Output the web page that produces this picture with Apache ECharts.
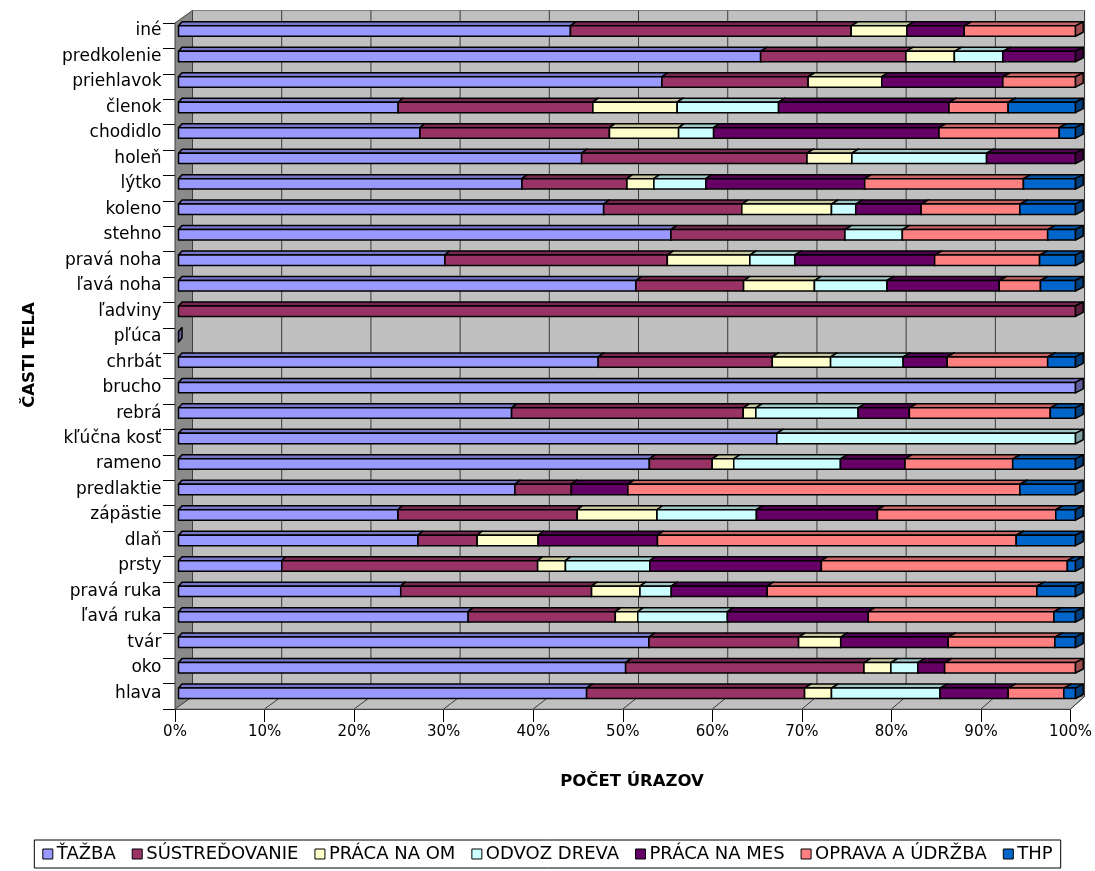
<!DOCTYPE html>
<html>
<head>
<meta charset="utf-8">
<script src="https://cdn.jsdelivr.net/npm/echarts@6/dist/echarts.min.js"></script>
<style>
  html, body { margin: 0; padding: 0; background: #fff; }
  #chart { width: 1095px; height: 871px; }
</style>
</head>
<body>
<div id="chart"></div>
<script>
// Body parts, listed from the bottom row upwards
const categories = ['hlava', 'oko', 'tvár', 'ľavá ruka', 'pravá ruka', 'prsty', 'dlaň', 'zápästie',
  'predlaktie', 'rameno', 'kľúčna kosť', 'rebrá', 'brucho', 'chrbát', 'pľúca', 'ľadviny',
  'ľavá noha', 'pravá noha', 'stehno', 'koleno', 'lýtko', 'holeň', 'chodidlo', 'členok',
  'priehlavok', 'predkolenie', 'iné'];

// Share of injuries (%) per department, same order as categories
const tazba         = [45.5, 49.9, 52.5, 32.3, 24.8, 11.5, 26.7, 24.5, 37.5, 52.5, 66.7, 37.1, 100, 46.8, 0, 0, 51.0, 29.7, 54.9, 47.4, 38.3, 44.9, 26.9, 24.5, 53.9, 64.9, 43.7];
const sustredovanie = [24.3, 26.6, 16.7, 16.4, 21.3, 28.5, 6.6, 20.0, 6.3, 7.0, 0, 25.8, 0, 19.4, 0, 100, 12.0, 24.8, 19.4, 15.4, 11.7, 25.1, 21.1, 21.7, 16.3, 16.2, 31.3];
const pracaNaOM     = [3.0, 3.0, 4.7, 2.5, 5.4, 3.1, 6.8, 8.9, 0, 2.4, 0, 1.4, 0, 6.5, 0, 0, 7.9, 9.2, 0, 10.0, 3.0, 5.0, 7.7, 9.4, 8.2, 5.4, 6.2];
const odvozDreva    = [12.1, 3.0, 0, 10.0, 3.5, 9.4, 0, 11.1, 0, 11.9, 33.3, 11.4, 0, 8.1, 0, 0, 8.1, 5.0, 6.4, 2.7, 5.8, 15.0, 3.9, 11.3, 0, 5.4, 0];
const pracaNaMES    = [7.6, 3.0, 12.0, 15.7, 10.7, 19.1, 13.3, 13.5, 6.3, 7.2, 0, 5.7, 0, 4.9, 0, 0, 12.5, 15.6, 0, 7.3, 17.7, 9.9, 25.1, 19.0, 13.5, 8.1, 6.4];
const opravaUdrzba  = [6.2, 14.6, 11.9, 20.7, 30.1, 27.4, 40.0, 19.9, 43.7, 12.0, 0, 15.7, 0, 11.2, 0, 0, 4.6, 11.7, 16.2, 11.0, 17.7, 0, 13.4, 6.6, 8.1, 0, 12.4];
const thp           = [1.3, 0, 2.3, 2.4, 4.3, 0.9, 6.6, 2.2, 6.2, 7.0, 0, 2.8, 0, 3.1, 0, 0, 3.9, 4.0, 3.1, 6.2, 5.8, 0, 1.8, 7.5, 0, 0, 0];

const seriesNames  = ['ŤAŽBA', 'SÚSTREĎOVANIE', 'PRÁCA NA OM', 'ODVOZ DREVA', 'PRÁCA NA MES', 'OPRAVA A ÚDRŽBA', 'THP'];
const seriesValues = [tazba, sustredovanie, pracaNaOM, odvozDreva, pracaNaMES, opravaUdrzba, thp];
const seriesColors = ['#9999FF', '#993366', '#FFFFCC', '#CCFFFF', '#660066', '#FF8080', '#0066CC'];

// Value axis ticks (percent)
const valueTicks = [0, 10, 20, 30, 40, 50, 60, 70, 80, 90, 100];

const xTitle = 'POČET ÚRAZOV';
const yTitle = 'ČASTI TELA';
const FONT = 'DejaVu Sans';

// ---------- helpers ----------
function shade(hex, f) {
  const n = parseInt(hex.slice(1), 16);
  const r = Math.round(((n >> 16) & 255) * f);
  const g = Math.round(((n >> 8) & 255) * f);
  const b = Math.round((n & 255) * f);
  return 'rgb(' + r + ',' + g + ',' + b + ')';
}

// 100% stacking: each row is normalised to its own total
const rowTotals = categories.map((_, i) => seriesValues.reduce((s, arr) => s + arr[i], 0));
const cumulative = categories.map(() => 0);
const stackedData = seriesValues.map((arr, s) => arr.map((v, i) => {
  const pct = rowTotals[i] > 0 ? v / rowTotals[i] * 100 : 0;
  const start = cumulative[i];
  const end = start + pct;
  cumulative[i] = end;
  // last flag: draw the end face even for an empty row (first series only)
  const endFace = (end > start) || (rowTotals[i] === 0 && s === 0) ? 1 : 0;
  return [start, end, i, endFace];
}));

// Depth offsets of the oblique 3D look
const BAR_THICK = 0.41;
const BAR_DEPTH_Y = 4;
function barDepthX(x, cs) { return 3.5 + 4.2 * (x - cs.x) / cs.width; }
const WALL_DEPTH_Y = 12.5;
function wallDepthX(x, cs) { return 17.5 - 3.5 * (x - cs.x) / cs.width; }

function renderSegment(params, api) {
  const s0 = api.value(0), s1 = api.value(1), ci = api.value(2), endFace = api.value(3);
  const cs = params.coordSys;
  const p0 = api.coord([s0, ci]);
  const p1 = api.coord([s1, ci]);
  const h = api.size([0, 1])[1] * BAR_THICK;
  const x0 = p0[0], x1 = p1[0];
  const yT = p0[1] - h / 2, yB = p0[1] + h / 2;
  const d0 = barDepthX(x0, cs), d1 = barDepthX(x1, cs);
  const col = seriesColors[params.seriesIndex - 1];
  const line = { stroke: '#000', lineWidth: 1.5, lineJoin: 'round' };
  const children = [];
  if (x1 > x0) {
    children.push({
      type: 'polygon',
      shape: { points: [[x0, yT], [x1, yT], [x1 + d1, yT - BAR_DEPTH_Y], [x0 + d0, yT - BAR_DEPTH_Y]] },
      style: Object.assign({ fill: shade(col, 0.78) }, line)
    });
    children.push({
      type: 'rect',
      shape: { x: x0, y: yT, width: x1 - x0, height: h },
      style: Object.assign({ fill: col }, line)
    });
  }
  if (endFace) {
    children.push({
      type: 'polygon',
      shape: { points: [[x1, yT], [x1 + d1, yT - BAR_DEPTH_Y], [x1 + d1, yB - BAR_DEPTH_Y], [x1, yB]] },
      style: Object.assign({ fill: shade(col, 0.62) }, line)
    });
  }
  return { type: 'group', children: children };
}

// Back wall, side wall, floor and value gridlines, drawn on the front-plane grid
function renderWalls(params, api) {
  const cs = params.coordSys;
  const L = cs.x, R = cs.x + cs.width, T = cs.y, B = cs.y + cs.height;
  const bL = L + wallDepthX(L, cs), bR = R + wallDepthX(R, cs);
  const bT = T - WALL_DEPTH_Y, bB = B - WALL_DEPTH_Y;
  const children = [
    { type: 'rect', shape: { x: bL, y: bT, width: bR - bL, height: bB - bT },
      style: { fill: '#C0C0C0', stroke: '#808080', lineWidth: 1 } },
    { type: 'polygon', shape: { points: [[L, B], [R, B], [bR, bB], [bL, bB]] },
      style: { fill: '#C0C0C0', stroke: '#808080', lineWidth: 1 } },
    { type: 'polygon', shape: { points: [[L, T], [bL, bT], [bL, bB], [L, B]] },
      style: { fill: '#8A8A8A', stroke: '#404040', lineWidth: 1 } }
  ];
  valueTicks.forEach(v => {
    const x = api.coord([v, 0])[0];
    const xb = x + wallDepthX(x, cs);
    if (v > valueTicks[0]) {
      children.push({ type: 'line', shape: { x1: xb, y1: bT, x2: xb, y2: bB },
        style: { stroke: '#3a3a3a', lineWidth: 1 } });
      children.push({ type: 'line', shape: { x1: x, y1: B, x2: xb, y2: bB },
        style: { stroke: '#3a3a3a', lineWidth: 1 } });
    }
  });
  return { type: 'group', children: children };
}

const chart = echarts.init(document.getElementById('chart'), null, { renderer: 'canvas' });

const option = {
  animation: false,
  backgroundColor: '#ffffff',
  textStyle: { fontFamily: FONT, color: '#000' },
  grid: [
    // bar front faces
    { left: 178.5, top: 18.3, width: 897, height: 687.7, containLabel: false },
    // front plane of the 3D box
    { left: 175, top: 23, width: 896, height: 686, containLabel: false }
  ],
  xAxis: [
    { type: 'value', gridIndex: 0, min: valueTicks[0], max: valueTicks[valueTicks.length - 1],
      interval: valueTicks[1] - valueTicks[0], show: false },
    { type: 'value', gridIndex: 1, min: valueTicks[0], max: valueTicks[valueTicks.length - 1],
      interval: valueTicks[1] - valueTicks[0],
      axisLine: { show: true, lineStyle: { color: '#000', width: 1 } },
      axisTick: { show: true, length: 13, lineStyle: { color: '#000', width: 1 } },
      splitLine: { show: false },
      axisLabel: { formatter: '{value}%', margin: 16, fontSize: 15, fontFamily: FONT, color: '#000' } }
  ],
  yAxis: [
    { type: 'category', gridIndex: 0, data: categories,
      axisLine: { show: false }, axisTick: { show: false }, splitLine: { show: false },
      axisLabel: { margin: 17, fontSize: 17, fontFamily: FONT, color: '#000', interval: 0 } },
    { type: 'category', gridIndex: 1, data: categories,
      axisLine: { show: true, lineStyle: { color: '#000', width: 1 } },
      axisTick: { show: true, length: 12, interval: 0, lineStyle: { color: '#000', width: 1 } },
      axisLabel: { show: false }, splitLine: { show: false } }
  ],
  legend: {
    data: seriesNames,
    left: 'center',
    top: 840,
    orient: 'horizontal',
    icon: 'rect',
    itemWidth: 10,
    itemHeight: 10,
    itemGap: 16,
    padding: [5, 8],
    borderColor: '#000',
    borderWidth: 1,
    borderRadius: 0,
    backgroundColor: '#fff',
    textStyle: { fontSize: 18, fontFamily: FONT, color: '#000', padding: [0, 0, 0, -1] },
    itemStyle: { borderColor: '#000', borderWidth: 1 }
  },
  graphic: [
    { type: 'text', x: 632, y: 782,
      style: { text: xTitle, fontFamily: FONT, fontSize: 16.5, fontWeight: 'bold', fill: '#000',
        textAlign: 'center', textVerticalAlign: 'middle' } },
    { type: 'text', x: 30, y: 355, rotation: Math.PI / 2,
      style: { text: yTitle, fontFamily: FONT, fontSize: 16.5, fontWeight: 'bold', fill: '#000',
        textAlign: 'center', textVerticalAlign: 'middle' } }
  ],
  series: [
    { type: 'custom', name: 'walls', xAxisIndex: 1, yAxisIndex: 1, z: 1, silent: true,
      renderItem: renderWalls, data: [[0, 0]], clip: false }
  ].concat(seriesNames.map((name, s) => ({
    type: 'custom',
    name: name,
    xAxisIndex: 0,
    yAxisIndex: 0,
    z: 2,
    clip: false,
    itemStyle: { color: seriesColors[s], borderColor: '#000', borderWidth: 1 },
    encode: { x: [0, 1], y: 2 },
    renderItem: renderSegment,
    data: stackedData[s]
  })))
};

chart.setOption(option);
</script>
</body>
</html>
